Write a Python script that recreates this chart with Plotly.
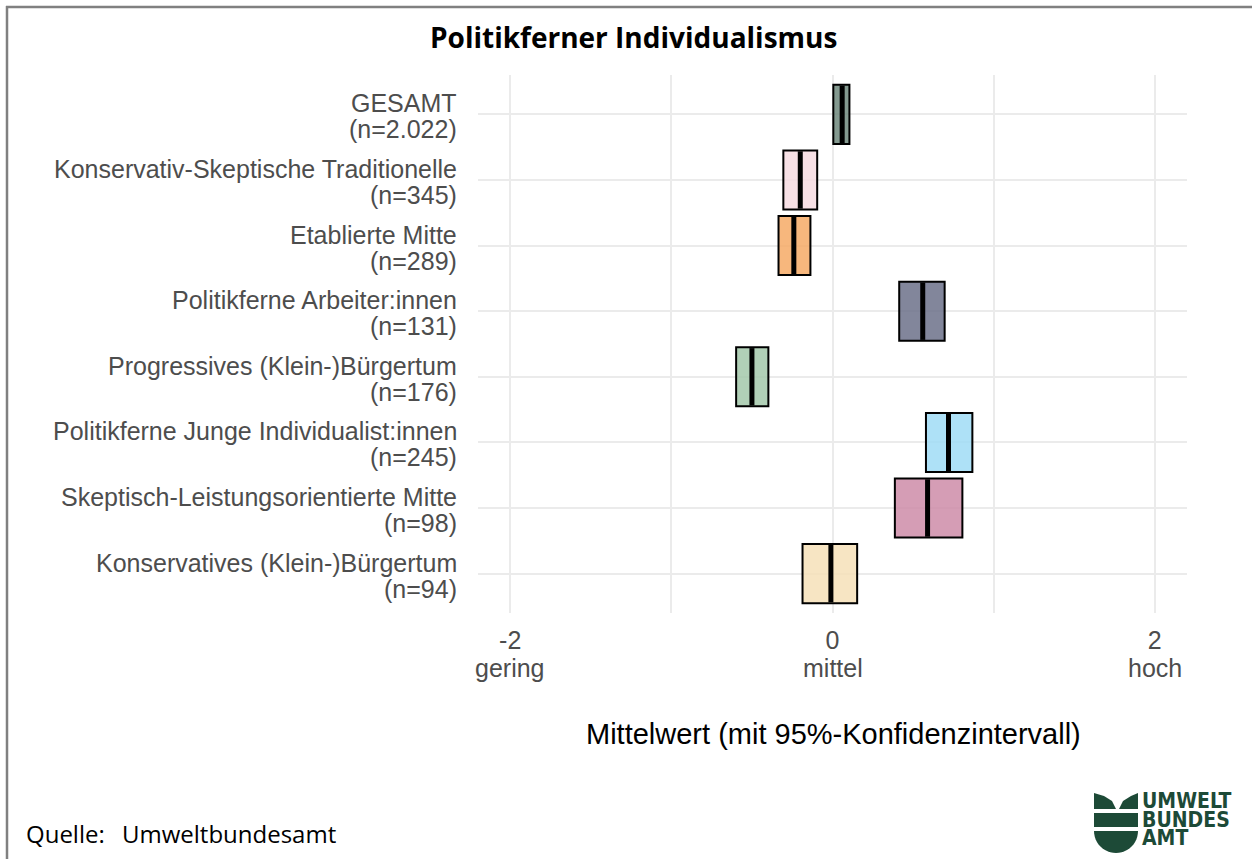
import math
import plotly.graph_objects as go

# ---- data ----
categories = [
    "GESAMT",
    "Konservativ-Skeptische Traditionelle",
    "Etablierte Mitte",
    "Politikferne Arbeiter:innen",
    "Progressives (Klein-)Bürgertum",
    "Politikferne Junge Individualist:innen",
    "Skeptisch-Leistungsorientierte Mitte",
    "Konservatives (Klein-)Bürgertum",
]
n_values = ["2.022", "345", "289", "131", "176", "245", "98", "94"]
means = [0.06, -0.20, -0.24, 0.56, -0.50, 0.72, 0.59, -0.01]
ci_low = [0.005, -0.305, -0.335, 0.414, -0.598, 0.580, 0.387, -0.186]
ci_high = [0.105, -0.095, -0.137, 0.696, -0.398, 0.868, 0.806, 0.153]
colors = [
    "rgba(110,136,125,0.85)",
    "rgba(246,219,225,0.85)",
    "rgba(246,170,102,0.85)",
    "rgba(108,113,138,0.85)",
    "rgba(163,200,170,0.85)",
    "rgba(160,220,246,0.85)",
    "rgba(206,140,168,0.85)",
    "rgba(246,224,184,0.85)",
]
x_tickvals = [-2, 0, 2]
x_ticktext = ["-2", "0", "2"]
x_tickdesc = ["gering", "mittel", "hoch"]
title = "Politikferner Individualismus"
x_title = "Mittelwert (mit 95%-Konfidenzintervall)"
source_label = "Quelle:"
source_name = "Umweltbundesamt"
logo_lines = ["UMWELT", "BUNDES", "AMT"]

widths = [h - l for l, h in zip(ci_low, ci_high)]

# ---- layout geometry (pixels) ----
W, H = 1252, 859
L, R, T, B = 478, 65, 75, 246
PW, PH = W - L - R, H - T - B


def px(x):
    return (x - L) / PW


def py(y):
    return (H - B - y) / PH


fig = go.Figure()
fig.add_trace(go.Bar(
    y=categories, x=widths, base=ci_low, orientation="h", width=0.9,
    marker=dict(color=colors, line=dict(color="black", width=2)),
    hoverinfo="skip", showlegend=False,
))
fig.add_trace(go.Scatter(
    y=categories, x=means, mode="markers",
    marker=dict(symbol="line-ns", size=41, line=dict(color="black", width=5)),
    showlegend=False, hoverinfo="skip",
))

grid = "#ebebeb"
tick_font = dict(family="Liberation Sans, Arial", size=25, color="#4d4d4d")
fig.update_layout(
    width=W, height=H,
    margin=dict(l=L, r=R, t=T, b=B, autoexpand=False),
    paper_bgcolor="white", plot_bgcolor="white",
    xaxis=dict(
        range=[-2.2, 2.2], tickvals=x_tickvals, ticktext=x_ticktext,
        showgrid=True, gridcolor=grid, gridwidth=2, zeroline=False,
        showline=False, ticks="", ticklabelstandoff=10,
        tickfont=tick_font,
        minor=dict(tickvals=[-1, 1], showgrid=True, gridcolor=grid, gridwidth=2, ticks=""),
    ),
    yaxis=dict(
        categoryorder="array", categoryarray=categories, range=[7.6, -0.6],
        showgrid=True, gridcolor=grid, gridwidth=2, zeroline=False,
        showline=False, ticks="", showticklabels=False,
    ),
    font=dict(family="Liberation Sans, Arial"),
)

ann = []
# y labels (two lines each)
for c, n in zip(categories, n_values):
    ann.append(dict(text=c, xref="paper", yref="y", x=px(459), y=c, yshift=11,
                    xanchor="right", yanchor="middle", showarrow=False, font=tick_font))
    ann.append(dict(text=f"(n={n})", xref="paper", yref="y", x=px(459), y=c, yshift=-15,
                    xanchor="right", yanchor="middle", showarrow=False, font=tick_font))
# x tick descriptors
for v, d in zip(x_tickvals, x_tickdesc):
    ann.append(dict(text=d, xref="x", yref="paper", x=v, y=py(668),
                    xanchor="center", yanchor="middle", showarrow=False, font=tick_font))
# x title
ann.append(dict(text=x_title, xref="paper", yref="paper", x=px(833), y=py(734),
                xanchor="center", yanchor="middle", showarrow=False,
                font=dict(family="Liberation Sans, Arial", size=29, color="black")))
# title
ann.append(dict(text=f"<b>{title}</b>", xref="paper", yref="paper",
                x=px(633), y=py(37), xanchor="center", yanchor="middle", showarrow=False,
                font=dict(family="Open Sans", size=28, color="black")))
# source
ann.append(dict(text=source_label, xref="paper", yref="paper", x=px(24), y=py(833),
                xanchor="left", yanchor="middle", showarrow=False,
                font=dict(family="Open Sans", size=24, color="black")))
ann.append(dict(text=source_name, xref="paper", yref="paper", x=px(120), y=py(833),
                xanchor="left", yanchor="middle", showarrow=False,
                font=dict(family="Open Sans", size=24, color="black")))
# logo text
logo_green = "#1d4a37"
for i, t in enumerate(logo_lines):
    ann.append(dict(text=f"<b>{t}</b>", xref="paper", yref="paper", x=px(1141), y=py(801 + 18.5 * i),
                    xanchor="left", yanchor="middle", showarrow=False, borderpad=0,
                    font=dict(family="Liberation Sans Narrow, DejaVu Sans Condensed, Roboto Condensed, Liberation Sans",
                              size=21, color=logo_green)))
fig.update_layout(annotations=ann)


def path(points, close=True):
    s = "M " + " L ".join(f"{px(a):.5f},{py(b):.5f}" for a, b in points)
    return s + (" Z" if close else "")


shapes = []
# logo icon: wings
shapes.append(dict(type="path", xref="paper", yref="paper", line=dict(width=0), fillcolor=logo_green,
                   path=path([(1094, 793), (1094, 809), (1116, 809), (1112, 801), (1104, 796)])))
shapes.append(dict(type="path", xref="paper", yref="paper", line=dict(width=0), fillcolor=logo_green,
                   path=path([(1138, 793), (1138, 809), (1119, 809), (1123, 801), (1131, 796)])))
# band
shapes.append(dict(type="path", xref="paper", yref="paper", line=dict(width=0), fillcolor=logo_green,
                   path=path([(1094, 813), (1138, 813), (1138, 827), (1094, 827)])))
# bottom half disc
pts = [(1094, 831), (1138, 831)]
for i in range(1, 24):
    a = math.pi * i / 24
    pts.append((1116 + 22 * math.cos(a), 831 + 22 * math.sin(a)))
shapes.append(dict(type="path", xref="paper", yref="paper", line=dict(width=0), fillcolor=logo_green,
                   path=path(pts)))
# border lines
shapes.append(dict(type="line", xref="paper", yref="paper", x0=px(6), x1=px(1252), y0=py(7), y1=py(7),
                   line=dict(color="#808080", width=2.5)))
shapes.append(dict(type="line", xref="paper", yref="paper", x0=px(7), x1=px(7), y0=py(6), y1=py(859),
                   line=dict(color="#808080", width=2.5)))
fig.update_layout(shapes=shapes)

fig.write_html("out.html", config={"displayModeBar": False},
               post_script="document.body.style.margin='0';document.body.style.overflow='hidden';")
